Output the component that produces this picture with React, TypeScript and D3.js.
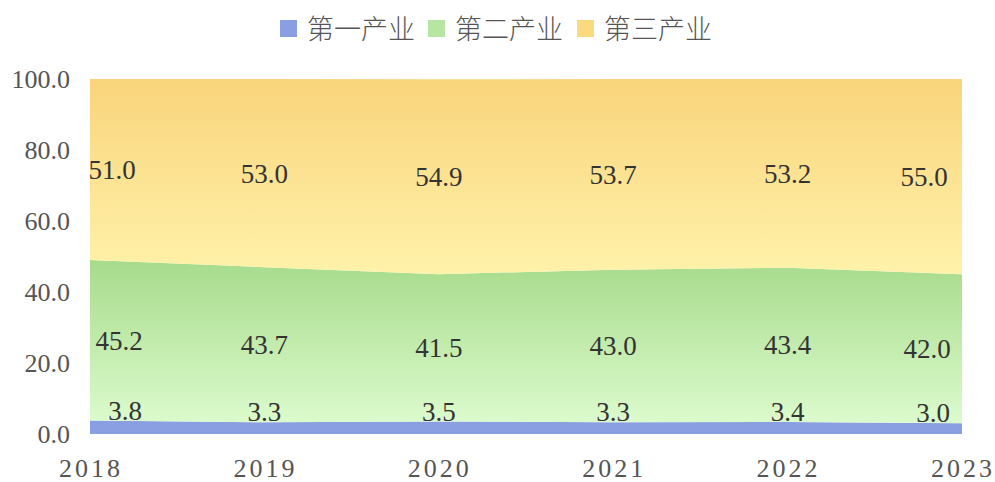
import * as d3 from "d3";

const years = ["2018", "2019", "2020", "2021", "2022", "2023"];
const primary = [3.8, 3.3, 3.5, 3.3, 3.4, 3.0];
const secondary = [45.2, 43.7, 41.5, 43.0, 43.4, 42.0];
const tertiary = [51.0, 53.0, 54.9, 53.7, 53.2, 55.0];
const seriesNames = ["第一产业", "第二产业", "第三产业"];
const yTicks = [0, 20, 40, 60, 80, 100];

const W = 995;
const H = 482;
const margin = { top: 79, right: 33, bottom: 48, left: 90 };

// label nudges at the chart edges (per series), like the original
const firstNudge = [35, 29, 22];
const lastNudge = [-29, -35, -38];

export default function App() {
  const rows = years.map((y, i) => ({
    year: y,
    p: primary[i],
    s: secondary[i],
    t: tertiary[i],
  }));
  const stack = d3.stack<any>().keys(["p", "s", "t"]);
  const layers = stack(rows);

  const x = d3
    .scalePoint<string>()
    .domain(years)
    .range([margin.left, W - margin.right]);
  const y = d3
    .scaleLinear()
    .domain([0, 100])
    .range([H - margin.bottom, margin.top]);

  const area = d3
    .area<any>()
    .x((d) => x(d.data.year) as number)
    .y0((d) => y(d[0]))
    .y1((d) => Math.max(y(d[1]), y(100)));

  const fills = ["#8a9fe2", "url(#gGreen)", "url(#gYellow)"];
  const legendColors = ["#8a9fe2", "#b7e5a2", "#fbd97f"];
  const legendX = [280, 428, 577];

  const labelX = (i: number, k: number) => {
    const px = x(years[i]) as number;
    if (i === 0) return px + firstNudge[k];
    if (i === years.length - 1) return px + lastNudge[k];
    return px;
  };

  const serif = "Liberation Serif, DejaVu Serif, serif";

  return (
    <svg width={W} height={H} style={{ position: "absolute", left: 0, top: 0 }}>
      <defs>
        <linearGradient id="gYellow" x1="0" y1="0" x2="0" y2="1">
          <stop offset="0%" stopColor="#f9d47b" />
          <stop offset="100%" stopColor="#fff2aa" />
        </linearGradient>
        <linearGradient id="gGreen" x1="0" y1="0" x2="0" y2="1">
          <stop offset="0%" stopColor="#a7db8b" />
          <stop offset="100%" stopColor="#dcfbcd" />
        </linearGradient>
      </defs>

      {layers.map((layer, k) => (
        <path key={k} d={area(layer as any) || ""} fill={fills[k]} />
      ))}

      {/* y axis labels */}
      {yTicks.map((t) => (
        <text
          key={t}
          x={70}
          y={y(t)}
          dy="0.35em"
          textAnchor="end"
          fontFamily={serif}
          fontSize={26}
          fill="#555"
        >
          {t.toFixed(1)}
        </text>
      ))}

      {/* x axis labels */}
      {years.map((yr) => (
        <text
          key={yr}
          x={(x(yr) as number) + 1}
          y={477}
          textAnchor="middle"
          fontFamily={serif}
          fontSize={26}
          letterSpacing={3}
          fill="#555"
        >
          {yr}
        </text>
      ))}

      {/* data labels */}
      {layers.map((layer, k) =>
        layer.map((d: any, i: number) => {
          const val = [primary, secondary, tertiary][k][i];
          const ly =
            k === 0 ? y(d[1]) - 1 : (y(d[0]) + Math.max(y(d[1]), y(100))) / 2;
          return (
            <text
              key={`${k}-${i}`}
              x={labelX(i, k)}
              y={ly}
              dy={k === 0 ? 0 : "0.35em"}
              textAnchor="middle"
              fontFamily={serif}
              fontSize={27}
              fill="#333"
            >
              {val.toFixed(1)}
            </text>
          );
        })
      )}

      {/* legend */}
      {seriesNames.map((n, i) => (
        <g key={n}>
          <rect x={legendX[i]} y={20} width={17} height={17} fill={legendColors[i]} />
          <text
            x={legendX[i] + 27}
            y={29}
            dy="0.36em"
            fontFamily="Noto Sans CJK SC, sans-serif"
            fontWeight={300}
            fontSize={27}
            fill="#555"
          >
            {n}
          </text>
        </g>
      ))}
    </svg>
  );
}
